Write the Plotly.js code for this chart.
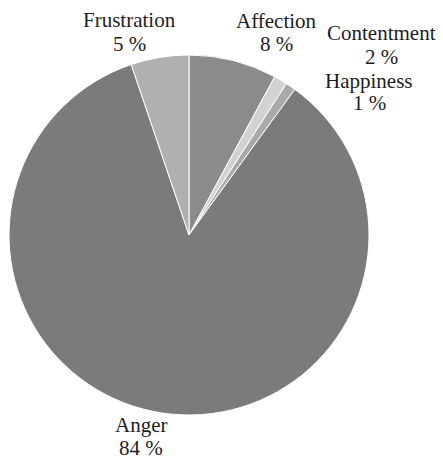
<!DOCTYPE html>
<html>
<head>
<meta charset="utf-8">
<script src="https://cdn.plot.ly/plotly-3.0.1.min.js"></script>
<style>html,body{margin:0;padding:0;background:#fff;}#chart{width:443px;height:462px;}</style>
</head>
<body>
<div id="chart"></div>
<script>
// Data
const categories = ["Affection", "Contentment", "Happiness", "Anger", "Frustration"];
const shares = [7.9, 1.2, 0.9, 84.8, 5.2];          // slice sizes (%)
const percentLabels = ["8 %", "2 %", "1 %", "84 %", "5 %"]; // printed labels
const sliceColors = ["#8b8b8b", "#d2d2d2", "#a9a9a9", "#7b7b7b", "#b0b0b0"];

// Label placement in pixels (x centre, name line y, percent line y) – layout only
const labelPos = [
  [276, 21, 44],
  [381, 33, 57],
  [369, 81, 103],
  [141, 425, 448],
  [129, 20, 44]
];

const W = 443, H = 462;
const trace = {
  type: "pie",
  labels: categories,
  values: shares,
  sort: false,
  direction: "clockwise",
  rotation: 0,
  textinfo: "none",
  hoverinfo: "label+percent",
  marker: { colors: sliceColors, line: { color: "#ffffff", width: 1 } },
  domain: { x: [9/W, 369/W], y: [1 - 415/H, 1 - 55/H] }
};

const font = { family: "Liberation Serif, Times New Roman, serif", size: 21, color: "#1e1e1e" };
const annotations = [];
categories.forEach((c, i) => {
  const [px, py1, py2] = labelPos[i];
  [[c, py1], [percentLabels[i], py2]].forEach(([t, py]) => {
    annotations.push({
      text: t, x: px / W, y: 1 - py / H,
      xref: "paper", yref: "paper",
      xanchor: "center", yanchor: "middle",
      showarrow: false, borderpad: 0, font: font
    });
  });
});

Plotly.newPlot("chart", [trace], {
  width: W, height: H,
  margin: { l: 0, r: 0, t: 0, b: 0 },
  showlegend: false,
  paper_bgcolor: "#ffffff",
  annotations: annotations
}, { displayModeBar: false, staticPlot: true });
</script>
</body>
</html>
